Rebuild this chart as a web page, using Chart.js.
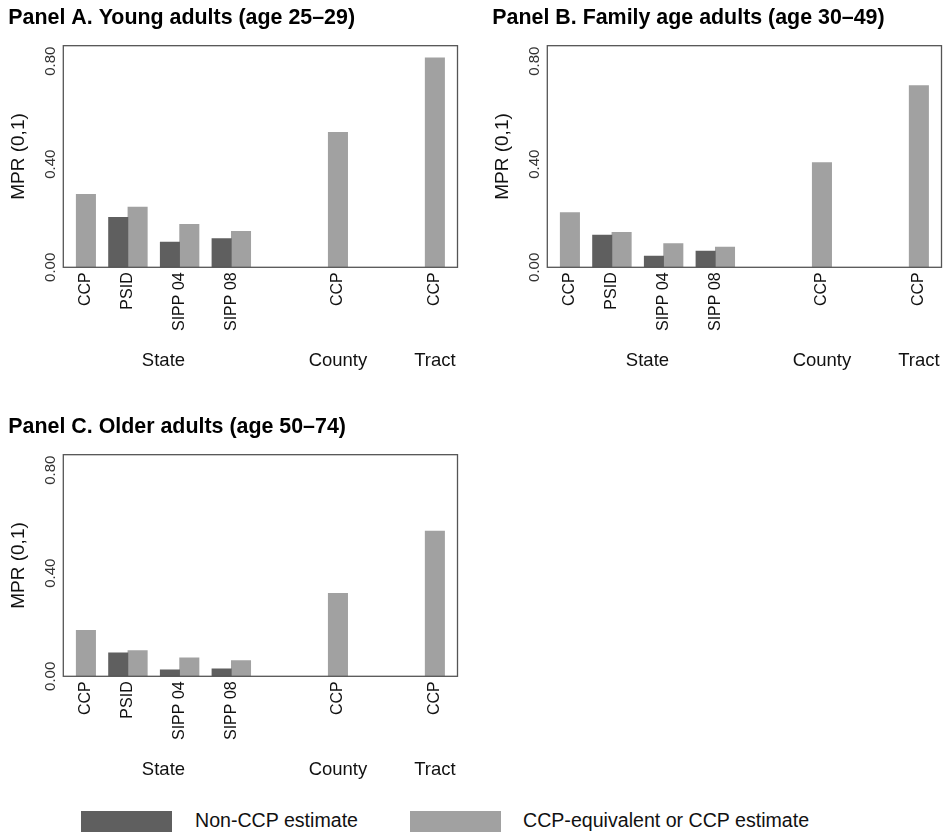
<!DOCTYPE html>
<html>
<head>
<meta charset="utf-8">
<title>MPR by geography and data source</title>
<script src="https://cdn.jsdelivr.net/npm/chart.js@4/dist/chart.umd.min.js"></script>
<style>
  html, body { margin: 0; padding: 0; background: #fff; }
  body { width: 949px; height: 833px; position: relative; overflow: hidden;
         font-family: "Liberation Sans", Arial, Helvetica, sans-serif; }
  canvas { position: absolute; }
  .swatch { position: absolute; width: 91px; height: 21px; }
  .legend-text { position: absolute; font-size: 19.6px; line-height: 21px; color: #111; white-space: nowrap; }
</style>
</head>
<body>
<canvas id="panelA" width="465" height="380" style="left:0px;top:0px"></canvas>
<canvas id="panelB" width="465" height="380" style="left:484px;top:0px"></canvas>
<canvas id="panelC" width="465" height="380" style="left:0px;top:409px"></canvas>

<div class="swatch" id="swNon" style="left:81px;top:811px"></div>
<div class="legend-text" id="txNon" style="left:195px;top:810px"></div>
<div class="swatch" id="swCcp" style="left:410px;top:811px"></div>
<div class="legend-text" id="txCcp" style="left:523px;top:810px"></div>

<script>
// ---- data ----
const panelTitles = [
  'Panel A. Young adults (age 25–29)',
  'Panel B. Family age adults (age 30–49)',
  'Panel C. Older adults (age 50–74)'
];
const sourceLabels = ['CCP', 'PSID', 'SIPP 04', 'SIPP 08', 'CCP', 'CCP'];
const geoLevels = ['State', 'County', 'Tract'];
const geoOfSource = [0, 0, 0, 0, 1, 2];
const seriesNames = ['Non-CCP estimate', 'CCP-equivalent or CCP estimate'];
const yAxisTitle = 'MPR (0,1)';
const yTickValues = [0, 0.4, 0.8];

// Panel A: age 25–29
const nonCcpA = [null, 0.194, 0.098, 0.111, null, null];
const ccpA    = [0.283, 0.234, 0.167, 0.140, 0.524, 0.813];
// Panel B: age 30–49
const nonCcpB = [null, 0.125, 0.044, 0.063, null, null];
const ccpB    = [0.212, 0.136, 0.092, 0.078, 0.406, 0.705];
// Panel C: age 50–74
const nonCcpC = [null, 0.091, 0.025, 0.029, null, null];
const ccpC    = [0.178, 0.100, 0.072, 0.061, 0.322, 0.564];

// ---- layout (x axis in thirds of a bar width) ----
const slotCenter = [2, 10, 18, 26, 41, 56];
const HALF_BAR = 1.5;
const X_MAX = 61;
const Y_MAX = 0.86;

// ---- style ----
const FONT = '"Liberation Sans", Arial, Helvetica, sans-serif';
const DARK = '#5f5f5f';
const LIGHT = '#a1a1a1';

document.getElementById('swNon').style.background = DARK;
document.getElementById('swCcp').style.background = LIGHT;
document.getElementById('txNon').textContent = seriesNames[0];
document.getElementById('txCcp').textContent = seriesNames[1];

function barPoints(values, shift) {
  return values
    .map((v, i) => (v == null ? null : { x: slotCenter[i] + shift, y: v }))
    .filter(p => p !== null);
}

function labelPositions(nonCcp) {
  return slotCenter.map((c, i) => (nonCcp[i] == null ? c + HALF_BAR : c));
}

function geoCenters(nonCcp) {
  return geoLevels.map((_, g) => {
    let lo = Infinity, hi = -Infinity;
    slotCenter.forEach((c, i) => {
      if (geoOfSource[i] !== g) return;
      lo = Math.min(lo, nonCcp[i] == null ? c : c - 2 * HALF_BAR);
      hi = Math.max(hi, c + 2 * HALF_BAR);
    });
    return (lo + hi) / 2;
  });
}

// frame, rotated value labels and geography labels
const panelDecor = {
  id: 'panelDecor',
  afterDatasetsDraw(chart, args, opts) {
    const { ctx, chartArea: a, scales: { x, y } } = chart;
    ctx.save();
    ctx.strokeStyle = '#555';
    ctx.lineWidth = 1.3;
    ctx.strokeRect(a.left, a.top, a.right - a.left, a.bottom - a.top);

    ctx.fillStyle = '#333';
    ctx.font = '15px ' + FONT;
    ctx.textAlign = 'center';
    ctx.textBaseline = 'middle';
    yTickValues.forEach(v => {
      ctx.save();
      ctx.translate(a.left - 12.3, y.getPixelForValue(v));
      ctx.rotate(-Math.PI / 2);
      ctx.fillText(v.toFixed(2), 0, 0);
      ctx.restore();
    });

    ctx.fillStyle = '#111';
    ctx.font = '18.5px ' + FONT;
    ctx.textBaseline = 'alphabetic';
    opts.geoCenters.forEach((c, g) => {
      ctx.fillText(geoLevels[g], x.getPixelForValue(c), a.bottom + 98.4);
    });
    ctx.restore();
  }
};

function makePanel(canvasId, title, nonCcp, ccp) {
  const tickPos = labelPositions(nonCcp);
  return new Chart(document.getElementById(canvasId), {
    type: 'bar',
    data: {
      datasets: [
        { label: seriesNames[0], data: barPoints(nonCcp, -HALF_BAR), backgroundColor: DARK, borderWidth: 0 },
        { label: seriesNames[1], data: barPoints(ccp, HALF_BAR), backgroundColor: LIGHT, borderWidth: 0 }
      ]
    },
    options: {
      responsive: false,
      animation: false,
      events: [],
      grouped: false,
      categoryPercentage: 1,
      barPercentage: 1,
      layout: { padding: { left: 8.3, right: 7.5, top: 0, bottom: 0 } },
      plugins: {
        legend: { display: false },
        tooltip: { enabled: false },
        title: {
          display: true,
          text: title,
          align: 'start',
          color: '#000',
          font: { family: FONT, size: 21.4, weight: 'bold', lineHeight: 1.2 },
          padding: { top: 4.9, bottom: 15.1 }
        },
        panelDecor: { geoCenters: geoCenters(nonCcp) }
      },
      scales: {
        x: {
          type: 'linear',
          min: 0,
          max: X_MAX,
          offset: false,
          grid: { display: false, drawTicks: false },
          border: { display: false },
          afterBuildTicks: axis => { axis.ticks = tickPos.map(v => ({ value: v })); },
          afterFit: axis => { axis.height = 112.7; },
          ticks: {
            autoSkip: false,
            minRotation: 90,
            maxRotation: 90,
            padding: 5,
            color: '#111',
            font: { family: FONT, size: 16 },
            callback: (value, index) => sourceLabels[index]
          }
        },
        y: {
          min: 0,
          max: Y_MAX,
          grid: { display: false, drawTicks: false },
          border: { display: false },
          ticks: { display: false },
          afterFit: axis => { axis.width = 55; },
          title: {
            display: true,
            text: yAxisTitle,
            color: '#111',
            font: { family: FONT, size: 19, lineHeight: 1.1 },
            padding: 0
          }
        }
      }
    },
    plugins: [panelDecor]
  });
}

makePanel('panelA', panelTitles[0], nonCcpA, ccpA);
makePanel('panelB', panelTitles[1], nonCcpB, ccpB);
makePanel('panelC', panelTitles[2], nonCcpC, ccpC);
</script>
</body>
</html>
